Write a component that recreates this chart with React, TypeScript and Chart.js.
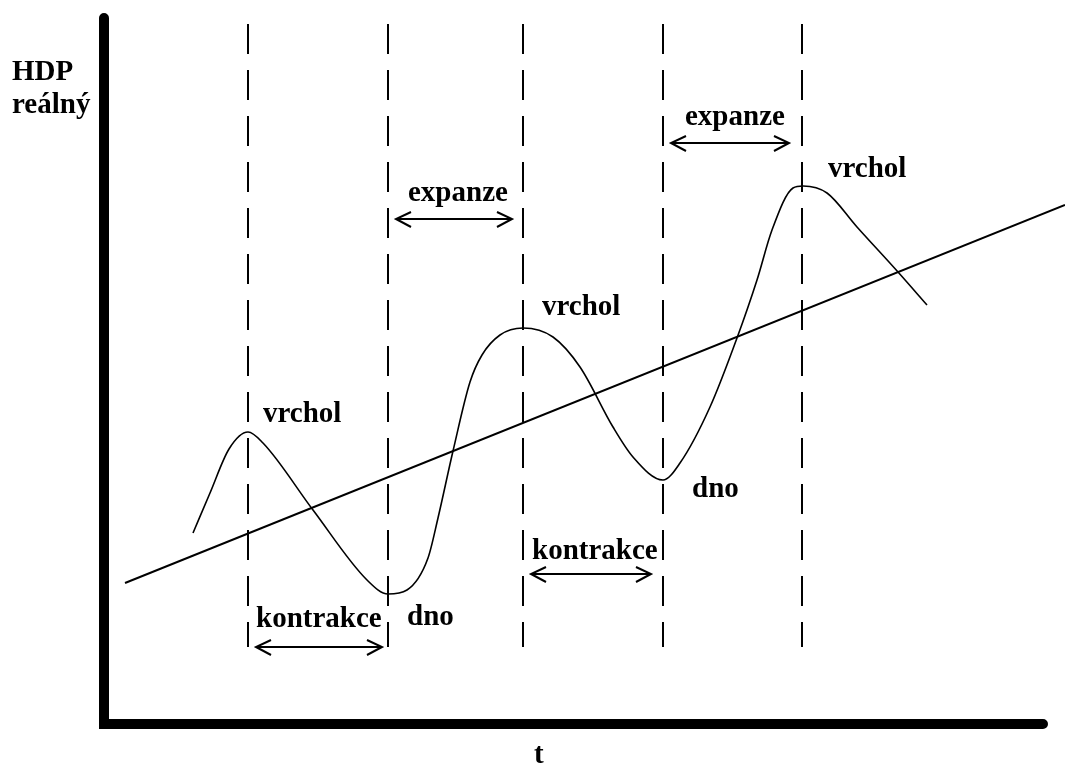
import React, { useEffect, useRef } from "react";
import { Chart, registerables } from "chart.js";

Chart.register(...registerables);

const cycleX = [89, 106, 125, 144, 159, 209, 263, 284, 303, 324, 334, 349, 366, 378, 396, 419, 449, 476, 509, 529, 559, 576, 606, 633, 653, 668, 689, 699, 723, 753, 794, 823];
const cycleY = [191, 231, 275, 292, 281, 214, 144, 130, 134, 166, 206, 273, 342, 369, 389, 396, 387, 357, 297, 267, 244, 261, 317, 386, 444, 494, 536, 538, 531, 497, 452, 419];

// Long-run trend line
const trendX = [21, 961];
const trendY = [141, 519];

// Turning points (peaks / troughs) marked by dashed verticals
const phaseX = [144, 284, 419, 559, 698];
const phaseTop = 700;
const phaseBottom = 77;

// Axes
const axisYTop = 706;
const axisXEnd = 939;

// Phase arrows
const arrowY = [77, 505, 150, 581];
const arrowX1 = [152, 292, 427, 567];
const arrowX2 = [278, 408, 547, 685];

// Text labels
const labelText = ["HDP", "reálný", "t", "vrchol", "dno", "kontrakce", "expanze", "vrchol", "kontrakce", "dno", "expanze", "vrchol"];
const labelX = [-92, -92, 430, 159, 303, 152, 304, 438, 428, 588, 581, 724];
const labelY = [644, 611, -39, 302, 99, 97, 523, 409, 165, 227, 599, 547];

const labelPlugin = {
  id: "labels",
  afterDatasetsDraw(chart: any) {
    const ctx = chart.ctx;
    const xs = chart.scales.x;
    const ys = chart.scales.y;
    ctx.save();
    ctx.fillStyle = "#000";
    ctx.font = 'bold 29px "Liberation Serif", "Times New Roman", serif';
    ctx.textAlign = "left";
    ctx.textBaseline = "alphabetic";
    labelText.forEach((t, i) => {
      ctx.fillText(t, xs.getPixelForValue(labelX[i]), ys.getPixelForValue(labelY[i]));
    });
    ctx.restore();
  },
};

const arrowPlugin = {
  id: "arrowheads",
  afterDatasetsDraw(chart: any) {
    const ctx = chart.ctx;
    ctx.save();
    ctx.strokeStyle = "#000";
    ctx.lineWidth = 2;
    chart.data.datasets.forEach((ds: any, i: number) => {
      if (ds.label !== "arrow") return;
      const pts = chart.getDatasetMeta(i).data;
      if (pts.length < 2) return;
      const a = pts[0];
      const b = pts[pts.length - 1];
      ctx.beginPath();
      ctx.moveTo(a.x + 15, a.y - 7);
      ctx.lineTo(a.x, a.y);
      ctx.lineTo(a.x + 15, a.y + 8);
      ctx.moveTo(b.x - 15, b.y - 7);
      ctx.lineTo(b.x, b.y);
      ctx.lineTo(b.x - 15, b.y + 8);
      ctx.stroke();
    });
    ctx.restore();
  },
};

export default function App() {
  const ref = useRef<HTMLCanvasElement | null>(null);

  useEffect(() => {
    if (!ref.current) return;
    const base = { showLine: true, pointRadius: 0, borderColor: "#000", clip: false as any, fill: false };
    const datasets: any[] = [];

    datasets.push({
      ...base,
      label: "axes",
      data: [
        { x: 0, y: axisYTop },
        { x: 0, y: 0 },
        { x: axisXEnd, y: 0 },
      ],
      borderWidth: 10,
      borderCapStyle: "round",
      borderJoinStyle: "miter",
    });

    phaseX.forEach((px) => {
      datasets.push({
        ...base,
        label: "phase",
        data: [
          { x: px, y: phaseTop },
          { x: px, y: phaseBottom },
        ],
        borderWidth: 2,
        borderDash: [30, 16],
      });
    });

    datasets.push({
      ...base,
      label: "trend",
      data: trendX.map((x, i) => ({ x, y: trendY[i] })),
      borderWidth: 2,
    });

    datasets.push({
      ...base,
      label: "cycle",
      data: cycleX.map((x, i) => ({ x, y: cycleY[i] })),
      borderWidth: 1.6,
      cubicInterpolationMode: "monotone",
    });

    arrowY.forEach((y, i) => {
      datasets.push({
        ...base,
        label: "arrow",
        data: [
          { x: arrowX1[i], y },
          { x: arrowX2[i], y },
        ],
        borderWidth: 2,
      });
    });

    const chart = new Chart(ref.current, {
      type: "scatter",
      data: { datasets },
      options: {
        animation: false,
        responsive: false,
        events: [],
        layout: { padding: 0 },
        plugins: { legend: { display: false }, tooltip: { enabled: false } },
        scales: {
          x: { type: "linear", min: -104, max: 961, display: false },
          y: { type: "linear", min: -40, max: 724, display: false },
        },
      },
      plugins: [labelPlugin, arrowPlugin],
    } as any);

    return () => chart.destroy();
  }, []);

  return (
    <div style={{ position: "absolute", left: 0, top: 0, width: 1065, height: 764, background: "#fff" }}>
      <canvas ref={ref} width={1065} height={764} style={{ display: "block" }} />
    </div>
  );
}
